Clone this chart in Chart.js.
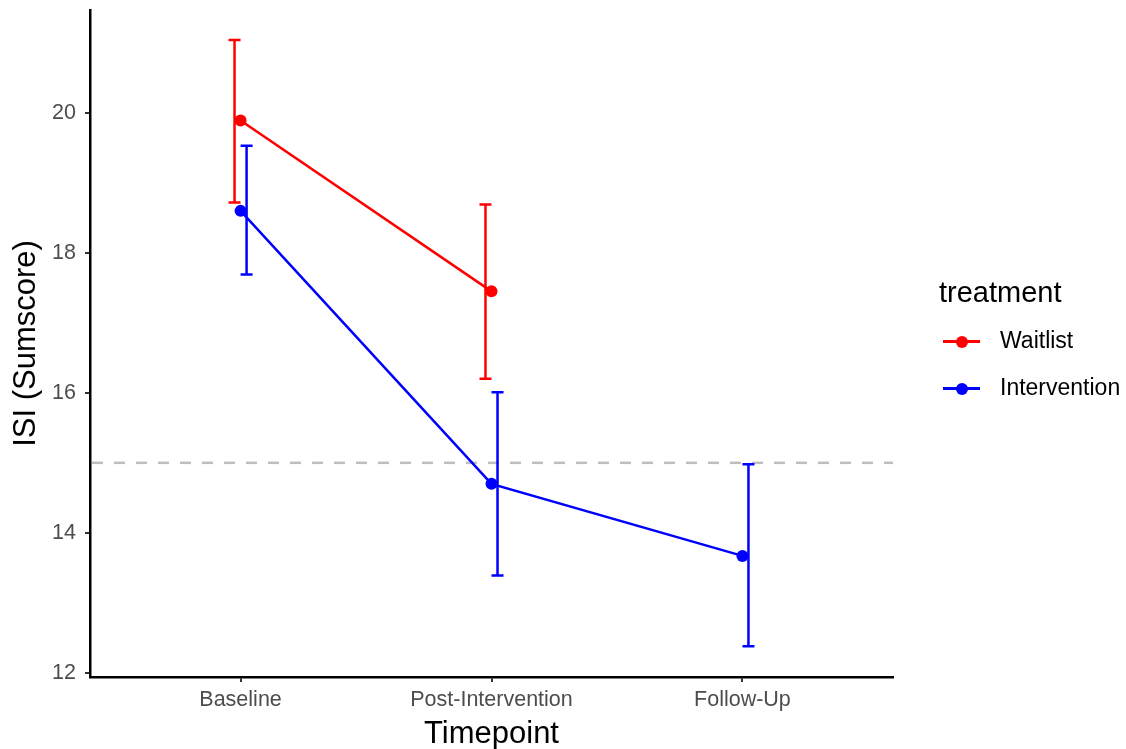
<!DOCTYPE html>
<html>
<head>
<meta charset="utf-8">
<script src="https://cdn.jsdelivr.net/npm/chart.js@4.4.1/dist/chart.umd.min.js"></script>
<style>
  html, body { margin: 0; padding: 0; background: #fff; }
  #wrap { position: relative; width: 1126px; height: 749px; }
  #legend { position: absolute; left: 939px; top: 272px; font-family: "Liberation Sans", Arial, sans-serif; color: #000; }
  #legend .title { font-size: 29px; line-height: 40px; height: 40px; }
  #legend .item { position: relative; height: 47px; font-size: 23px; }
  #legend .item .ln { position: absolute; left: 4px; top: 28px; width: 37px; height: 2.5px; }
  #legend .item .pt { position: absolute; left: 17px; top: 23.5px; width: 12px; height: 12px; border-radius: 50%; }
  #legend .item .tx { position: absolute; left: 61px; top: 15px; line-height: 27px; }
</style>
</head>
<body>
<div id="wrap">
  <canvas id="c" width="1126" height="749"></canvas>
  <div id="legend"></div>
</div>
<script>
// ---- data ----
const categories = ["Baseline", "Post-Intervention", "Follow-Up"];
const seriesNames = ["Waitlist", "Intervention"];
const seriesColors = ["#FF0000", "#0000FF"];
const waitlistMean  = [19.89, 17.45];
const waitlistLower = [18.72, 16.20];
const waitlistUpper = [21.04, 18.69];
const interventionMean  = [18.60, 14.70, 13.67];
const interventionLower = [17.69, 13.39, 12.38];
const interventionUpper = [19.53, 16.01, 14.98];
const yTicks = [12, 14, 16, 18, 20];
const cutoff = 15;

const dodge = [-0.024, 0.024];

function toPoints(means) {
  return means.map((v, i) => ({ x: i + 1, y: v }));
}

const lowers = [waitlistLower, interventionLower];
const uppers = [waitlistUpper, interventionUpper];

const errPlugin = {
  id: 'errbars',
  beforeDatasetsDraw(chart) {
    const { ctx, scales: { x, y }, chartArea } = chart;
    // dashed reference line
    ctx.save();
    ctx.strokeStyle = '#BEBEBE';
    ctx.lineWidth = 2.5;
    ctx.setLineDash([11, 11]);
    const yy = y.getPixelForValue(cutoff);
    ctx.beginPath();
    ctx.moveTo(chartArea.left + 2, yy);
    ctx.lineTo(chartArea.right, yy);
    ctx.stroke();
    ctx.restore();
    // error bars
    ctx.save();
    ctx.lineWidth = 2.5;
    ctx.setLineDash([]);
    for (let s = 0; s < 2; s++) {
      ctx.strokeStyle = seriesColors[s];
      const lo = lowers[s], hi = uppers[s];
      for (let i = 0; i < lo.length; i++) {
        const px = x.getPixelForValue(i + 1 + dodge[s]);
        const p1 = y.getPixelForValue(lo[i]);
        const p2 = y.getPixelForValue(hi[i]);
        ctx.beginPath();
        ctx.moveTo(px, p1); ctx.lineTo(px, p2);
        ctx.moveTo(px - 6, p1); ctx.lineTo(px + 6, p1);
        ctx.moveTo(px - 6, p2); ctx.lineTo(px + 6, p2);
        ctx.stroke();
      }
    }
    ctx.restore();
  }
};

const tickFont = { family: "Liberation Sans, Arial, sans-serif", size: 21.5 };
const titleFont = { family: "Liberation Sans, Arial, sans-serif", size: 31, lineHeight: 1.0 };
const xTitleFont = { family: "Liberation Sans, Arial, sans-serif", size: 31, lineHeight: 0.8 };

new Chart(document.getElementById('c'), {
  type: 'line',
  data: {
    datasets: [
      { label: seriesNames[0], data: toPoints(waitlistMean), borderColor: seriesColors[0], backgroundColor: seriesColors[0], borderWidth: 2.5, pointRadius: 6, pointHoverRadius: 6, pointBorderWidth: 0, tension: 0 },
      { label: seriesNames[1], data: toPoints(interventionMean), borderColor: seriesColors[1], backgroundColor: seriesColors[1], borderWidth: 2.5, pointRadius: 6, pointHoverRadius: 6, pointBorderWidth: 0, tension: 0 }
    ]
  },
  options: {
    responsive: false,
    animation: false,
    events: [],
    layout: { padding: { top: 10, right: 233, left: 0, bottom: 0 } },
    plugins: { legend: { display: false }, tooltip: { enabled: false } },
    scales: {
      x: {
        type: 'linear',
        min: 0.4, max: 3.6,
        afterBuildTicks: (s) => { s.ticks = categories.map((c, i) => ({ value: i + 1 })); },
        afterFit: (s) => { s.height = 72; s.paddingLeft = 0; s.paddingRight = 0; },
        ticks: { callback: (v) => categories[Math.round(v) - 1] || '', color: '#4D4D4D', font: tickFont, padding: 5, maxRotation: 0, autoSkip: false },
        grid: { drawOnChartArea: false, drawTicks: true, tickLength: 5, color: '#333333', lineWidth: 2 },
        border: { display: true, color: '#000000', width: 2.5 },
        title: { display: true, text: 'Timepoint', color: '#000000', font: xTitleFont, padding: { top: 0, bottom: 2 } }
      },
      y: {
        type: 'linear',
        min: 11.94, max: 21.47,
        afterBuildTicks: (s) => { s.ticks = yTicks.map(v => ({ value: v })); },
        afterFit: (s) => { s.width = 90; s.paddingTop = 0; s.paddingBottom = 0; },
        ticks: { color: '#4D4D4D', font: tickFont, padding: 9 },
        grid: { drawOnChartArea: false, drawTicks: true, tickLength: 5, color: '#333333', lineWidth: 2 },
        border: { display: true, color: '#000000', width: 2.5 },
        title: { display: true, text: 'ISI (Sumscore)', color: '#000000', font: titleFont, padding: { top: 11, bottom: 0 } }
      }
    }
  },
  plugins: [errPlugin]
});

// legend
const lg = document.getElementById('legend');
let html = '<div class="title">treatment</div>';
seriesNames.forEach((n, i) => {
  html += '<div class="item"><div class="ln" style="background:' + seriesColors[i] + '"></div>' +
          '<div class="pt" style="background:' + seriesColors[i] + '"></div>' +
          '<div class="tx">' + n + '</div></div>';
});
lg.innerHTML = html;
</script>
</body>
</html>
